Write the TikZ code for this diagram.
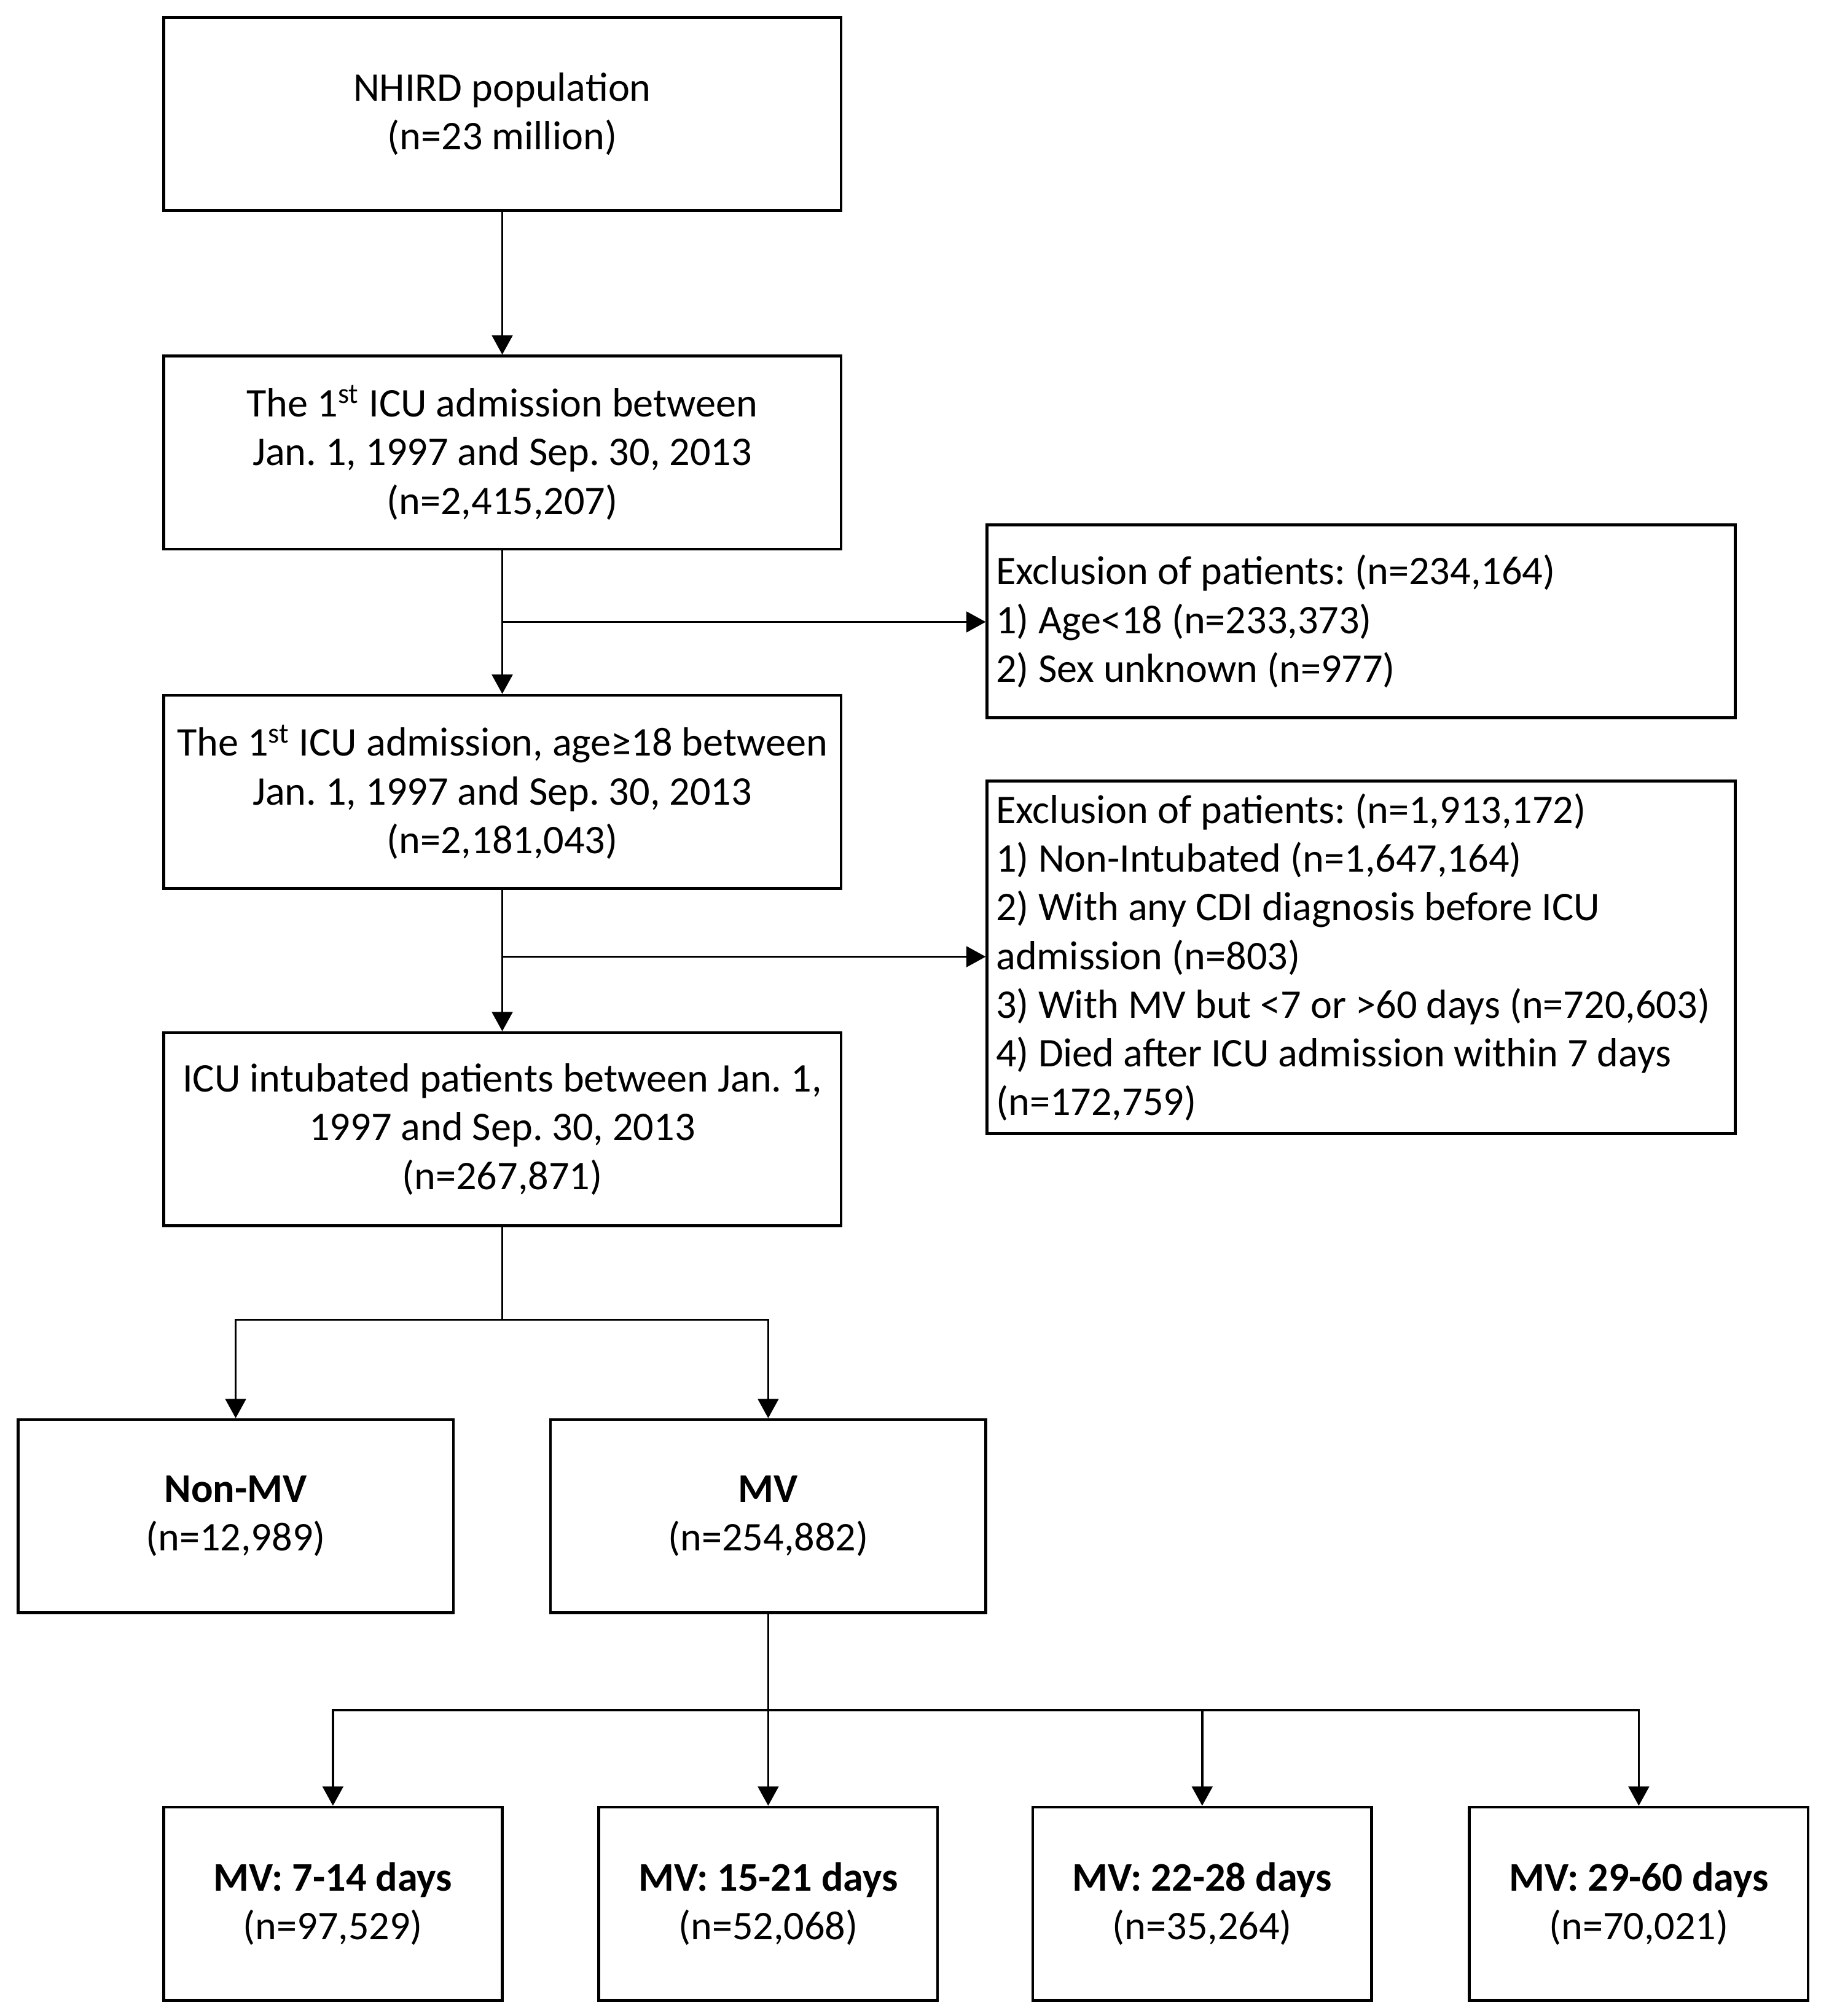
\documentclass[tikz,border=0pt]{standalone}
\usepackage{fontspec}
\setmainfont{Carlito}
\usetikzlibrary{arrows.meta}
\begin{document}
\frenchspacing
\begin{tikzpicture}[x=0.5pt,y=-0.5pt,
  every node/.style={font=\fontsize{15.8pt}{18.9pt}\selectfont\frenchspacing, inner sep=0pt},
  box/.style={draw, line width=1.1pt, minimum height=75pt, align=center},
  wbox/.style={box, minimum width=263pt},
  sbox/.style={box, minimum width=169pt},
  bbox/.style={box, minimum width=131.5pt},
  ebox/.style={draw, line width=1.1pt, text width=283.5pt, inner xsep=3.5pt, align=flush left},
  conn/.style={line width=0.85pt},
  arr/.style={conn, -{Triangle[length=7.5pt,width=8pt]}}
]
\useasboundingbox (0,0) rectangle (1414,1565.7);
\node[wbox] (b1) at (390,88.5) {NHIRD population\\(n=23 million)};
\node[wbox] (b2) at (390,351.5) {The 1\textsuperscript{st} ICU admission between\\Jan. 1, 1997 and Sep. 30, 2013\\(n=2,415,207)};
\node[wbox] (b3) at (390,615) {The 1\textsuperscript{st} ICU admission, age≥18 between\\Jan. 1, 1997 and Sep. 30, 2013\\(n=2,181,043)};
\node[wbox] (b4) at (390,877) {ICU intubated patients between Jan. 1,\\1997 and Sep. 30, 2013\\(n=267,871)};
\node[ebox, minimum height=75pt] (e1) at (1057,482.5) {Exclusion of patients: (n=234,164)\\1) Age<18 (n=233,373)\\2) Sex unknown (n=977)};
\node[ebox, minimum height=137pt] (e2) at (1057,743.5) {Exclusion of patients: (n=1,913,172)\\1) Non-Intubated (n=1,647,164)\\2) With any CDI diagnosis before ICU\\admission (n=803)\\3) With MV but <7 or >60 days (n=720,603)\\4) Died after ICU admission within 7 days\\(n=172,759)};
\node[sbox] (nonmv) at (183,1177.5) {\textbf{Non-MV}\\(n=12,989)};
\node[sbox] (mv) at (596.5,1177.5) {\textbf{MV}\\(n=254,882)};
\node[bbox] (m1) at (258.5,1478.5) {\textbf{MV: 7-14 days}\\(n=97,529)};
\node[bbox] (m2) at (596.5,1478.5) {\textbf{MV: 15-21 days}\\(n=52,068)};
\node[bbox] (m3) at (933.5,1478.5) {\textbf{MV: 22-28 days}\\(n=35,264)};
\node[bbox] (m4) at (1272.5,1478.5) {\textbf{MV: 29-60 days}\\(n=70,021)};
\coordinate (j1) at (390,483);
\coordinate (j2) at (390,743);
\coordinate (j3) at (390,1025);
\coordinate (j4) at (596.5,1328);
\draw[arr] (b1.south) -- (b2.north);
\draw[arr] (b2.south) -- (b3.north);
\draw[arr] (j1) -- (j1 -| e1.west);
\draw[arr] (b3.south) -- (b4.north);
\draw[arr] (j2) -- (j2 -| e2.west);
\draw[conn] (b4.south) -- (j3);
\draw[arr] (j3) -| (nonmv.north);
\draw[arr] (j3) -| (mv.north);
\draw[arr] (mv.south) -- (m2.north);
\draw[arr] (j4) -| (m1.north);
\draw[arr] (j4) -| (m3.north);
\draw[arr] (j4) -| (m4.north);
\end{tikzpicture}
\end{document}
